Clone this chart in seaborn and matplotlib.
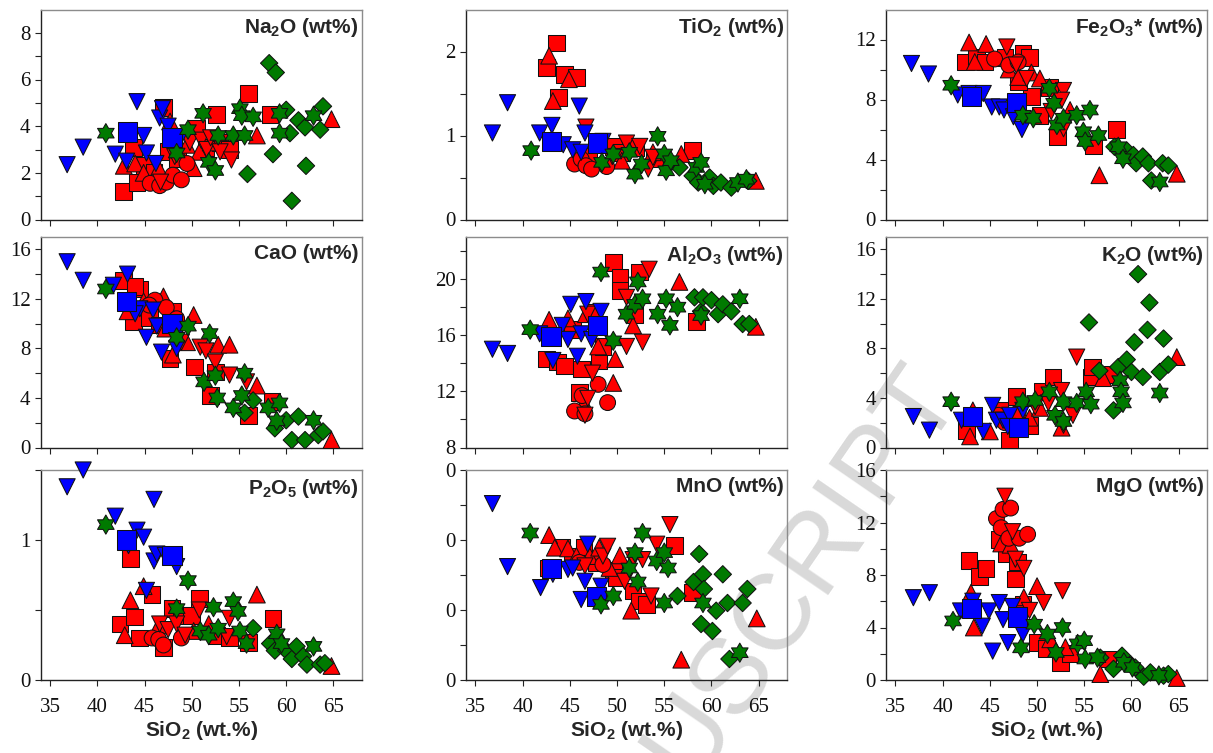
import numpy as np
import pandas as pd
import matplotlib
matplotlib.use("Agg")
import matplotlib.pyplot as plt
import seaborn as sns
from matplotlib.path import Path
from matplotlib.ticker import FixedLocator, FormatStrFormatter

#_____1. DATA (group, SiO2, oxide wt%)_____
# rs/rt/rc/rv = red square/up-tri/circle/down-tri, bv/bs = blue down-tri/square,
# gs/gd = green star/diamond
NA2O = [
    ("bv", 36.8, 2.35), ("bv", 38.5, 3.1), ("bv", 41.9, 2.8), ("bv", 43.1, 2.5), ("bv", 44.2, 5.05), ("bv", 44.9, 3.6),
    ("bv", 45.2, 2.85), ("bv", 46.2, 2.4), ("bv", 46.6, 4.35), ("bv", 46.9, 4.75), ("bv", 47.5, 4.0), ("bv", 48.8, 3.5),
    ("bs", 43.2, 3.75), ("bs", 47.9, 3.5),
    ("rs", 42.8, 1.2), ("rs", 43.8, 3.1), ("rs", 44.2, 1.6), ("rs", 45.0, 2.3), ("rs", 47.0, 4.8), ("rs", 47.5, 2.9),
    ("rs", 48.5, 2.6), ("rs", 50.5, 3.9), ("rs", 51.5, 3.1), ("rs", 52.6, 4.5), ("rs", 53.0, 3.3), ("rs", 54.0, 3.0),
    ("rs", 56.0, 5.4), ("rs", 58.3, 4.5), ("rs", 46.0, 2.0),
    ("rc", 45.6, 1.55), ("rc", 46.6, 1.45), ("rc", 47.3, 1.6), ("rc", 48.0, 1.9), ("rc", 48.9, 1.7), ("rc", 49.5, 2.4),
    ("rt", 42.8, 2.3), ("rt", 44.0, 2.4), ("rt", 44.9, 2.0), ("rt", 46.5, 2.2), ("rt", 47.7, 4.2), ("rt", 48.5, 3.0),
    ("rt", 49.5, 3.2), ("rt", 50.2, 2.2), ("rt", 50.8, 2.9), ("rt", 52.0, 3.3), ("rt", 56.9, 3.6), ("rt", 64.8, 4.3),
    ("rv", 46.7, 1.6), ("rv", 48.2, 2.7), ("rv", 49.8, 3.3), ("rv", 51.0, 3.4), ("rv", 51.6, 3.0), ("rv", 52.0, 3.5),
    ("rv", 53.0, 2.9), ("rv", 54.2, 2.55),
    ("gs", 40.9, 3.7), ("gs", 48.4, 2.85), ("gs", 49.6, 3.85), ("gs", 51.2, 4.55), ("gs", 51.8, 2.45), ("gs", 52.5, 2.1),
    ("gs", 52.8, 3.6), ("gs", 54.4, 3.6), ("gs", 55.1, 4.75), ("gs", 55.3, 4.45), ("gs", 55.6, 3.6), ("gs", 56.5, 4.4),
    ("gs", 59.3, 4.55), ("gs", 59.3, 3.7), ("gs", 62.9, 4.45),
    ("gd", 55.9, 1.95), ("gd", 58.2, 6.7), ("gd", 58.9, 6.3), ("gd", 58.6, 2.8), ("gd", 60.0, 4.7), ("gd", 60.4, 3.7),
    ("gd", 60.6, 0.8), ("gd", 61.3, 4.25), ("gd", 62.0, 3.95), ("gd", 62.1, 2.3), ("gd", 63.6, 3.85), ("gd", 63.9, 4.85),
]

TIO2 = [
    ("bv", 36.8, 1.03), ("bv", 38.4, 1.39), ("bv", 41.8, 1.03), ("bv", 43.1, 1.12), ("bv", 44.3, 0.89), ("bv", 45.3, 0.83),
    ("bv", 46.2, 0.80), ("bv", 46.0, 1.35), ("bv", 46.6, 1.03), ("bv", 48.5, 0.93),
    ("bs", 43.1, 0.93), ("bs", 47.9, 0.91),
    ("rs", 43.6, 2.1), ("rs", 42.5, 1.81), ("rs", 44.4, 1.73), ("rs", 45.7, 1.69), ("rs", 43.8, 1.45), ("rs", 49.6, 0.87),
    ("rs", 50.5, 0.8), ("rs", 52.0, 0.85), ("rs", 54.0, 0.72), ("rs", 58.0, 0.82), ("rs", 47.0, 0.75),
    ("rt", 42.8, 1.95), ("rt", 44.9, 1.67), ("rt", 43.2, 1.41), ("rt", 50.5, 0.7), ("rt", 53.8, 0.8), ("rt", 56.8, 0.78),
    ("rt", 64.7, 0.46),
    ("rc", 45.5, 0.66), ("rc", 46.2, 0.72), ("rc", 46.7, 0.64), ("rc", 47.3, 0.6), ("rc", 48.9, 0.63),
    ("rv", 46.7, 1.1), ("rv", 48.1, 0.91), ("rv", 51.0, 0.91), ("rv", 52.4, 0.87), ("rv", 53.3, 0.6), ("rv", 53.8, 0.74),
    ("rv", 49.5, 0.75),
    ("gs", 40.9, 0.82), ("gs", 48.4, 0.68), ("gs", 49.6, 0.78), ("gs", 51.3, 0.8), ("gs", 51.9, 0.54), ("gs", 52.6, 0.66),
    ("gs", 54.3, 0.99), ("gs", 55.0, 0.78), ("gs", 55.2, 0.58), ("gs", 55.7, 0.70), ("gs", 58.4, 0.62), ("gs", 58.9, 0.68),
    ("gs", 59.3, 0.42), ("gs", 62.8, 0.44), ("gs", 63.7, 0.48),
    ("gd", 56.6, 0.62), ("gd", 58.0, 0.52), ("gd", 58.6, 0.44), ("gd", 59.8, 0.5), ("gd", 60.2, 0.4), ("gd", 61.0, 0.44),
    ("gd", 62.1, 0.38), ("gd", 63.9, 0.46),
]

FE2O3 = [
    ("bv", 36.7, 10.4), ("bv", 38.5, 9.7), ("bv", 41.6, 8.3), ("bv", 42.8, 8.4), ("bv", 44.3, 8.4), ("bv", 45.2, 7.5),
    ("bv", 46.0, 7.5), ("bv", 46.5, 7.3), ("bv", 47.5, 6.85), ("bv", 48.4, 6.0),
    ("bs", 43.1, 8.2), ("bs", 47.8, 7.8),
    ("rt", 42.8, 11.8), ("rt", 43.4, 10.5), ("rt", 44.6, 11.7), ("rt", 47.0, 10.0), ("rt", 48.0, 9.5), ("rt", 49.4, 9.8),
    ("rt", 50.3, 9.4), ("rt", 53.5, 7.3), ("rt", 56.6, 2.95), ("rt", 64.8, 3.05),
    ("rs", 42.4, 10.5), ("rs", 43.6, 10.8), ("rs", 44.5, 10.5), ("rs", 46.6, 10.8), ("rs", 48.5, 11.1), ("rs", 49.2, 10.8),
    ("rs", 49.4, 8.2), ("rs", 50.3, 6.95), ("rs", 51.3, 8.8), ("rs", 52.2, 5.5), ("rs", 56.0, 4.95), ("rs", 58.4, 6.0),
    ("rs", 48.0, 9.2),
    ("rc", 45.5, 10.7), ("rc", 47.0, 10.3), ("rc", 48.0, 10.5),
    ("rv", 46.8, 11.5), ("rv", 47.8, 10.3), ("rv", 48.9, 9.4), ("rv", 52.8, 8.6), ("rv", 52.6, 7.95), ("rv", 52.8, 6.05),
    ("rv", 51.5, 7.2),
    ("gs", 40.9, 8.95), ("gs", 48.5, 6.95), ("gs", 49.6, 6.75), ("gs", 51.3, 8.75), ("gs", 51.8, 7.75), ("gs", 52.1, 6.3),
    ("gs", 52.8, 6.75), ("gs", 54.2, 6.95), ("gs", 55.6, 7.3), ("gs", 54.9, 5.85), ("gs", 55.1, 5.2), ("gs", 56.5, 5.6),
    ("gs", 58.6, 4.85), ("gs", 59.1, 4.05), ("gs", 63.0, 2.5),
    ("gd", 58.2, 4.85), ("gd", 59.5, 4.6), ("gd", 60.2, 4.3), ("gd", 60.5, 3.75), ("gd", 61.2, 4.2), ("gd", 61.8, 3.75),
    ("gd", 62.1, 2.6), ("gd", 63.3, 3.75), ("gd", 63.9, 3.6),
]

CAO = [
    ("bv", 36.8, 15.0), ("bv", 38.5, 13.5), ("bv", 41.7, 13.1), ("bv", 43.2, 14.0), ("bv", 44.5, 11.2), ("bv", 45.9, 11.1),
    ("bv", 45.2, 8.9), ("bv", 46.3, 9.8), ("bv", 46.8, 7.7), ("bv", 48.4, 8.0), ("bv", 44.0, 10.8),
    ("bs", 43.1, 11.8), ("bs", 47.9, 10.0),
    ("rs", 42.8, 13.5), ("rs", 44.5, 12.8), ("rs", 43.8, 10.2), ("rs", 45.5, 10.5), ("rs", 46.6, 9.9), ("rs", 47.7, 7.2),
    ("rs", 48.0, 11.0), ("rs", 50.3, 6.5), ("rs", 52.0, 4.2), ("rs", 52.5, 6.1), ("rs", 56.0, 2.6), ("rs", 58.5, 3.7),
    ("rs", 44.0, 13.0),
    ("rc", 46.1, 11.9), ("rc", 47.3, 11.3), ("rc", 48.4, 10.4), ("rc", 45.5, 11.5),
    ("rt", 43.2, 11.0), ("rt", 44.9, 11.8), ("rt", 47.0, 12.2), ("rt", 47.7, 11.0), ("rt", 48.0, 7.5), ("rt", 47.2, 9.6),
    ("rt", 50.2, 10.7), ("rt", 52.8, 8.3), ("rt", 54.0, 8.3), ("rt", 56.9, 5.0), ("rt", 64.8, 0.6), ("rt", 49.5, 8.5),
    ("rv", 48.9, 8.5), ("rv", 50.9, 8.1), ("rv", 51.5, 7.8), ("rv", 52.5, 6.9), ("rv", 54.0, 5.85), ("rv", 55.8, 5.3),
    ("gs", 40.9, 12.8), ("gs", 48.4, 8.9), ("gs", 49.6, 9.8), ("gs", 51.3, 5.3), ("gs", 51.9, 9.2), ("gs", 52.5, 5.8),
    ("gs", 52.7, 4.0), ("gs", 54.4, 3.2), ("gs", 55.3, 4.2), ("gs", 55.6, 6.0), ("gs", 58.1, 3.2), ("gs", 59.3, 3.6),
    ("gs", 59.0, 2.15), ("gs", 62.9, 2.2),
    ("gd", 55.6, 2.8), ("gd", 56.5, 3.8), ("gd", 58.8, 1.55), ("gd", 60.0, 2.2), ("gd", 60.6, 0.6), ("gd", 61.3, 2.5),
    ("gd", 62.0, 0.6), ("gd", 63.4, 1.0), ("gd", 63.9, 1.3),
]

AL2O3 = [
    ("bv", 36.8, 15.0), ("bv", 38.4, 14.7), ("bv", 41.8, 16.1), ("bv", 43.2, 14.2), ("bv", 44.2, 16.7), ("bv", 44.8, 15.7),
    ("bv", 45.1, 18.2), ("bv", 45.8, 14.5), ("bv", 46.2, 16.1), ("bv", 46.7, 18.4), ("bv", 47.3, 15.7), ("bv", 48.3, 17.7),
    ("bs", 43.0, 15.9), ("bs", 47.9, 16.7),
    ("rs", 42.5, 14.3), ("rs", 43.7, 14.1), ("rs", 44.4, 13.8), ("rs", 45.3, 16.4), ("rs", 46.2, 13.6), ("rs", 46.0, 11.9),
    ("rs", 47.4, 17.6), ("rs", 48.1, 14.2), ("rs", 48.5, 15.2), ("rs", 49.6, 21.2), ("rs", 50.3, 20.1), ("rs", 50.3, 19.2),
    ("rs", 51.9, 17.5), ("rs", 52.4, 20.5), ("rs", 58.4, 17.0),
    ("rc", 45.5, 10.6), ("rc", 46.3, 11.7), ("rc", 46.6, 10.4), ("rc", 48.0, 12.5), ("rc", 49.0, 11.2),
    ("rt", 42.8, 17.1), ("rt", 44.8, 17.2), ("rt", 46.7, 17.5), ("rt", 48.0, 15.2), ("rt", 49.8, 14.3), ("rt", 49.6, 12.6),
    ("rt", 51.7, 16.7), ("rt", 56.6, 19.8), ("rt", 64.7, 16.6), ("rt", 46.5, 11.2),
    ("rv", 46.9, 17.5), ("rv", 47.4, 13.3), ("rv", 46.6, 10.3), ("rv", 46.9, 11.5), ("rv", 51.0, 15.2), ("rv", 52.7, 15.5),
    ("rv", 53.4, 20.7), ("rv", 51.0, 18.7),
    ("gs", 40.8, 16.4), ("gs", 48.3, 20.5), ("gs", 49.6, 15.6), ("gs", 51.0, 17.5), ("gs", 51.9, 18.2), ("gs", 52.2, 19.8),
    ("gs", 52.7, 18.6), ("gs", 54.3, 17.5), ("gs", 55.2, 18.6), ("gs", 55.6, 16.7), ("gs", 56.4, 18.0), ("gs", 58.9, 17.4),
    ("gs", 63.0, 18.6),
    ("gd", 58.2, 18.7), ("gd", 58.9, 17.7), ("gd", 59.1, 18.7), ("gd", 60.0, 18.5), ("gd", 60.7, 17.5), ("gd", 61.2, 18.2),
    ("gd", 62.1, 17.7), ("gd", 63.3, 16.8), ("gd", 64.0, 16.8),
]

K2O = [
    ("bv", 36.9, 2.5), ("bv", 38.6, 1.4), ("bv", 42.0, 2.2), ("bv", 44.3, 1.3), ("bv", 45.3, 3.4), ("bv", 45.7, 2.2),
    ("bv", 46.4, 2.2), ("bv", 47.1, 2.6), ("bv", 48.5, 3.0), ("bv", 46.9, 1.7),
    ("bs", 43.2, 2.5), ("bs", 48.0, 1.6),
    ("rt", 42.9, 0.9), ("rt", 43.2, 3.0), ("rt", 45.0, 1.3), ("rt", 49.2, 2.4), ("rt", 50.3, 3.2), ("rt", 52.6, 1.6),
    ("rt", 57.0, 5.6), ("rt", 64.8, 7.3),
    ("rs", 42.5, 1.4), ("rs", 47.1, 0.6), ("rs", 47.8, 4.1), ("rs", 49.2, 1.8), ("rs", 50.6, 4.5), ("rs", 51.7, 5.7),
    ("rs", 55.7, 5.7), ("rs", 55.9, 6.5), ("rs", 58.0, 5.9), ("rs", 46.0, 3.0),
    ("rc", 45.9, 2.6), ("rc", 46.6, 2.0), ("rc", 48.0, 2.8),
    ("rv", 49.8, 3.3), ("rv", 51.2, 3.6), ("rv", 52.6, 4.6), ("rv", 53.8, 2.6), ("rv", 54.2, 7.3), ("rv", 52.8, 1.8),
    ("gs", 40.9, 3.7), ("gs", 48.5, 3.7), ("gs", 49.8, 3.8), ("gs", 51.3, 4.5), ("gs", 51.9, 2.6), ("gs", 52.8, 3.7),
    ("gs", 52.8, 2.1), ("gs", 54.2, 3.6), ("gs", 55.2, 4.5), ("gs", 55.7, 3.5), ("gs", 58.8, 5.4), ("gs", 58.9, 4.5),
    ("gs", 59.1, 3.6), ("gs", 63.0, 4.4),
    ("gd", 55.5, 10.1), ("gd", 56.6, 6.2), ("gd", 58.1, 3.0), ("gd", 58.6, 6.5), ("gd", 59.5, 7.1), ("gd", 60.0, 6.1),
    ("gd", 60.3, 8.5), ("gd", 60.7, 14.0), ("gd", 61.2, 5.7), ("gd", 61.7, 9.5), ("gd", 61.9, 11.7), ("gd", 63.0, 6.1),
    ("gd", 63.4, 8.8), ("gd", 63.9, 6.7),
]

P2O5 = [
    ("bv", 36.8, 1.38), ("bv", 38.5, 1.5), ("bv", 41.9, 1.17), ("bv", 43.3, 0.96), ("bv", 44.2, 1.07), ("bv", 44.9, 1.02),
    ("bv", 45.2, 0.64), ("bv", 46.0, 1.29), ("bv", 46.0, 0.85), ("bv", 46.3, 0.9), ("bv", 47.2, 0.89), ("bv", 48.4, 0.81),
    ("bs", 43.1, 1.0), ("bs", 47.9, 0.89),
    ("rs", 42.4, 0.4), ("rs", 43.5, 0.87), ("rs", 43.9, 0.45), ("rs", 44.5, 0.3), ("rs", 45.8, 0.61), ("rs", 47.0, 0.23),
    ("rs", 47.9, 0.51), ("rs", 48.9, 0.46), ("rs", 50.0, 0.46), ("rs", 50.8, 0.58), ("rs", 52.6, 0.32), ("rs", 56.0, 0.27),
    ("rs", 58.6, 0.44), ("rs", 54.0, 0.3),
    ("rc", 45.8, 0.3), ("rc", 46.5, 0.29), ("rc", 47.0, 0.25), ("rc", 48.9, 0.3),
    ("rt", 42.9, 0.32), ("rt", 43.5, 0.57), ("rt", 44.9, 0.67), ("rt", 46.5, 0.39), ("rt", 51.8, 0.40), ("rt", 56.9, 0.61),
    ("rt", 64.8, 0.1), ("rt", 50.2, 0.35),
    ("rv", 46.6, 0.4), ("rv", 47.5, 0.36), ("rv", 48.4, 0.4), ("rv", 49.3, 0.32), ("rv", 50.8, 0.5), ("rv", 53.7, 0.31),
    ("rv", 54.0, 0.44),
    ("gs", 40.9, 1.11), ("gs", 48.4, 0.51), ("gs", 49.6, 0.71), ("gs", 50.9, 0.35), ("gs", 51.8, 0.32), ("gs", 52.3, 0.52),
    ("gs", 52.8, 0.37), ("gs", 54.4, 0.56), ("gs", 54.9, 0.49), ("gs", 55.1, 0.35), ("gs", 55.8, 0.26), ("gs", 59.0, 0.33),
    ("gs", 59.5, 0.26), ("gs", 62.9, 0.24),
    ("gd", 56.5, 0.37), ("gd", 58.3, 0.26), ("gd", 58.8, 0.21), ("gd", 60.0, 0.21), ("gd", 60.6, 0.15), ("gd", 61.1, 0.24),
    ("gd", 61.8, 0.17), ("gd", 62.2, 0.11), ("gd", 63.6, 0.11), ("gd", 64.1, 0.12),
]

MNO = [
    ("bv", 36.8, 0.252), ("bv", 38.4, 0.162), ("bv", 41.9, 0.132), ("bv", 43.2, 0.151), ("bv", 44.8, 0.158),
    ("bv", 45.3, 0.16), ("bv", 46.2, 0.115), ("bv", 46.6, 0.141), ("bv", 46.9, 0.194), ("bv", 48.3, 0.134),
    ("bs", 43.1, 0.159), ("bs", 47.8, 0.119),
    ("rt", 42.8, 0.207), ("rt", 43.4, 0.189), ("rt", 44.8, 0.188), ("rt", 45.7, 0.177), ("rt", 47.1, 0.177),
    ("rt", 48.1, 0.189), ("rt", 49.2, 0.16), ("rt", 50.3, 0.178), ("rt", 51.5, 0.099), ("rt", 56.8, 0.029),
    ("rt", 64.8, 0.088),
    ("rs", 42.7, 0.16), ("rs", 44.1, 0.19), ("rs", 45.3, 0.177), ("rs", 46.5, 0.19), ("rs", 47.8, 0.168),
    ("rs", 49.6, 0.156), ("rs", 49.9, 0.146), ("rs", 51.7, 0.127), ("rs", 52.4, 0.113), ("rs", 53.1, 0.108),
    ("rs", 56.1, 0.192), ("rs", 58.0, 0.125),
    ("rc", 46.0, 0.168), ("rc", 48.5, 0.165),
    ("rv", 46.6, 0.163), ("rv", 48.5, 0.177), ("rv", 49.0, 0.191), ("rv", 50.8, 0.141), ("rv", 51.7, 0.172),
    ("rv", 52.7, 0.172), ("rv", 53.6, 0.12), ("rv", 54.2, 0.194), ("rv", 55.6, 0.222),
    ("gs", 40.8, 0.21), ("gs", 48.3, 0.108), ("gs", 49.6, 0.12), ("gs", 51.3, 0.16), ("gs", 51.9, 0.182),
    ("gs", 52.2, 0.14), ("gs", 52.7, 0.21), ("gs", 54.2, 0.17), ("gs", 55.0, 0.182), ("gs", 55.4, 0.16),
    ("gs", 55.0, 0.11), ("gs", 59.1, 0.11), ("gs", 63.0, 0.039),
    ("gd", 56.4, 0.12), ("gd", 58.1, 0.14), ("gd", 58.7, 0.18), ("gd", 59.1, 0.151), ("gd", 59.2, 0.13),
    ("gd", 58.9, 0.08), ("gd", 60.1, 0.07), ("gd", 60.5, 0.099), ("gd", 61.2, 0.151), ("gd", 61.7, 0.11),
    ("gd", 61.9, 0.03), ("gd", 63.3, 0.11), ("gd", 63.8, 0.13),
]

MGO = [
    ("bv", 36.9, 6.27), ("bv", 38.6, 6.65), ("bv", 41.9, 5.26), ("bv", 43.2, 6.0), ("bv", 44.2, 4.1), ("bv", 44.9, 5.26),
    ("bv", 45.3, 2.2), ("bv", 46.0, 5.9), ("bv", 46.4, 4.6), ("bv", 46.9, 2.85), ("bv", 47.4, 5.6), ("bv", 48.5, 3.5),
    ("bs", 43.1, 5.45), ("bs", 47.9, 4.8),
    ("rs", 42.8, 9.1), ("rs", 43.9, 7.9), ("rs", 44.6, 8.5), ("rs", 46.0, 10.7), ("rs", 46.7, 9.6), ("rs", 47.9, 9.0),
    ("rs", 47.7, 7.7), ("rs", 48.5, 5.8), ("rs", 50.0, 2.85), ("rs", 51.0, 2.4), ("rs", 52.5, 1.35), ("rs", 53.5, 2.0),
    ("rs", 57.5, 1.6),
    ("rc", 45.7, 12.3), ("rc", 46.4, 13.0), ("rc", 47.2, 13.1), ("rc", 46.2, 11.6), ("rc", 47.0, 10.8), ("rc", 48.1, 10.8),
    ("rc", 49.0, 11.1),
    ("rv", 46.6, 14.0), ("rv", 47.4, 11.3), ("rv", 47.7, 9.2), ("rv", 48.6, 8.5), ("rv", 49.2, 5.3), ("rv", 50.7, 5.9),
    ("rv", 52.7, 6.8),
    ("rt", 43.0, 6.65), ("rt", 43.3, 4.0), ("rt", 46.2, 10.4), ("rt", 47.2, 10.3), ("rt", 48.6, 6.3), ("rt", 50.0, 7.15),
    ("rt", 51.4, 3.1), ("rt", 53.0, 2.5), ("rt", 56.7, 0.45), ("rt", 64.8, 0.15),
    ("gs", 41.1, 4.5), ("gs", 48.3, 2.45), ("gs", 49.7, 4.25), ("gs", 51.1, 3.5), ("gs", 52.0, 2.1), ("gs", 52.7, 4.0),
    ("gs", 54.3, 2.75), ("gs", 55.0, 3.0), ("gs", 55.1, 1.6), ("gs", 56.4, 1.7), ("gs", 59.2, 1.35), ("gs", 60.1, 0.95),
    ("gs", 62.9, 0.35),
    ("gd", 56.7, 1.7), ("gd", 58.1, 0.85), ("gd", 59.0, 1.85), ("gd", 59.9, 1.2), ("gd", 60.4, 0.95), ("gd", 61.3, 0.25),
    ("gd", 62.0, 0.58), ("gd", 63.4, 0.33), ("gd", 63.9, 0.45),
]

#_____2. STYLE_____
GROUP_ORDER = ["rs", "rt", "rc", "rv", "bv", "bs", "gd", "gs"]

# six-pointed star (point up)
ang = np.deg2rad(90 + 30 * np.arange(12))
rad = np.where(np.arange(12) % 2 == 0, 1.0, 1 / np.sqrt(3))
star_verts = np.column_stack([rad * np.cos(ang), rad * np.sin(ang)])
star_verts = np.vstack([star_verts, star_verts[:1]])
HEXAGRAM = Path(star_verts, closed=True)

MARKERS = {"rs": "s", "rt": "^", "rc": "o", "rv": "v", "bv": "v", "bs": "s", "gd": "D", "gs": HEXAGRAM}
COLORS = {"rs": "#ff0000", "rt": "#ff0000", "rc": "#ff0000", "rv": "#ff0000",
          "bv": "#0000ff", "bs": "#0000ff", "gd": "#007a00", "gs": "#007a00"}
SIZES = {"rs": 145, "rt": 145, "rc": 130, "rv": 135, "bv": 135, "bs": 190, "gd": 78, "gs": 190}

PANELS = [
    (NA2O, "Na$_2$O (wt%)", (0, 9), [0, 2, 4, 6, 8], [1, 3, 5, 7], "%g"),
    (TIO2, "TiO$_2$ (wt%)", (0, 2.5), [0, 1, 2], [0.5, 1.5], "%g"),
    (FE2O3, "Fe$_2$O$_3$* (wt%)", (0, 14), [0, 4, 8, 12], [2, 6, 10], "%g"),
    (CAO, "CaO (wt%)", (0, 17), [0, 4, 8, 12, 16], [2, 6, 10, 14], "%g"),
    (AL2O3, "Al$_2$O$_3$ (wt%)", (8, 23), [8, 12, 16, 20], [10, 14, 18, 22], "%g"),
    (K2O, "K$_2$O (wt%)", (0, 17), [0, 4, 8, 12, 16], [2, 6, 10, 14], "%g"),
    (P2O5, "P$_2$O$_5$ (wt%)", (0, 1.5), [0, 1], [0.5, 1.5], "%g"),
    (MNO, "MnO (wt%)", (0, 0.3), [0, 0.1, 0.2, 0.3], [0.05, 0.15, 0.25], "%.0f"),
    (MGO, "MgO (wt%)", (0, 16), [0, 4, 8, 12, 16], [2, 6, 10, 14], "%g"),
]

sns.set_style("ticks")
plt.rcParams["font.family"] = "serif"
plt.rcParams["font.serif"] = ["Liberation Serif", "DejaVu Serif"]
plt.rcParams["mathtext.default"] = "regular"

W, H = 1213, 753
LEFTS = [40.7, 466, 886]
TOPS = [9.5, 237, 470]
BOTTOMS = [219.5, 447.5, 680]
AX_W = 321

#_____3. PLOT_____
fig = plt.figure(figsize=(W / 100, H / 100), dpi=100)
fig.patch.set_facecolor("white")

# faint watermark behind the panels
fig.text(554 / W, 1 - 981 / H, "MANUSCRIPT", rotation=55.5, rotation_mode="anchor",
         ha="left", va="baseline", fontsize=78, color="#d9d9d9",
         family="Liberation Sans", zorder=-1)

for i, (rows, title, ylim, majors, minors, fmt) in enumerate(PANELS):
    r, c = divmod(i, 3)
    ax = fig.add_axes([LEFTS[c] / W, 1 - BOTTOMS[r] / H, AX_W / W, (BOTTOMS[r] - TOPS[r]) / H])
    ax.set_facecolor("none")

    df = pd.DataFrame(rows, columns=["grp", "SiO2", "val"])
    df["grp"] = pd.Categorical(df["grp"], categories=GROUP_ORDER, ordered=True)
    df = df.sort_values("grp", kind="stable")

    sns.scatterplot(data=df, x="SiO2", y="val", hue="grp", style="grp", size="grp",
                    hue_order=GROUP_ORDER, style_order=GROUP_ORDER, size_order=GROUP_ORDER,
                    palette=COLORS, markers=MARKERS, sizes=SIZES,
                    edgecolor="#111111", linewidth=0.75, legend=False, ax=ax,
                    zorder=3, clip_on=False)

    ax.set_xlim(34, 68)
    ax.set_ylim(*ylim)
    ax.xaxis.set_major_locator(FixedLocator([35, 40, 45, 50, 55, 60, 65]))
    ax.yaxis.set_major_locator(FixedLocator(majors))
    ax.yaxis.set_minor_locator(FixedLocator(minors))
    ax.yaxis.set_major_formatter(FormatStrFormatter(fmt))
    ax.tick_params(which="both", direction="out", length=4.3, width=0.8, color="#222222",
                   labelsize=15, labelcolor="#111111", labelfontfamily="Liberation Serif")
    ax.tick_params(axis="y", pad=3)
    ax.tick_params(axis="x", pad=9)

    for side in ["top", "right"]:
        ax.spines[side].set_color("#8c8c8c")
        ax.spines[side].set_linewidth(1.0)
    for side in ["left", "bottom"]:
        ax.spines[side].set_color("#222222")
        ax.spines[side].set_linewidth(1.0)

    ax.set_ylabel("")
    if r == 2:
        ax.set_xlabel("SiO$_2$ (wt.%)", fontsize=15, fontweight="bold",
                      family="Liberation Sans", labelpad=1)
    else:
        ax.set_xlabel("")
        ax.tick_params(axis="x", labelbottom=False)

    ax.text(0.99, 0.967, title, transform=ax.transAxes, ha="right", va="top",
            fontsize=15, fontweight="bold", family="Liberation Sans", zorder=5)

plt.savefig("out.png", dpi=100, facecolor="white")
plt.close()
